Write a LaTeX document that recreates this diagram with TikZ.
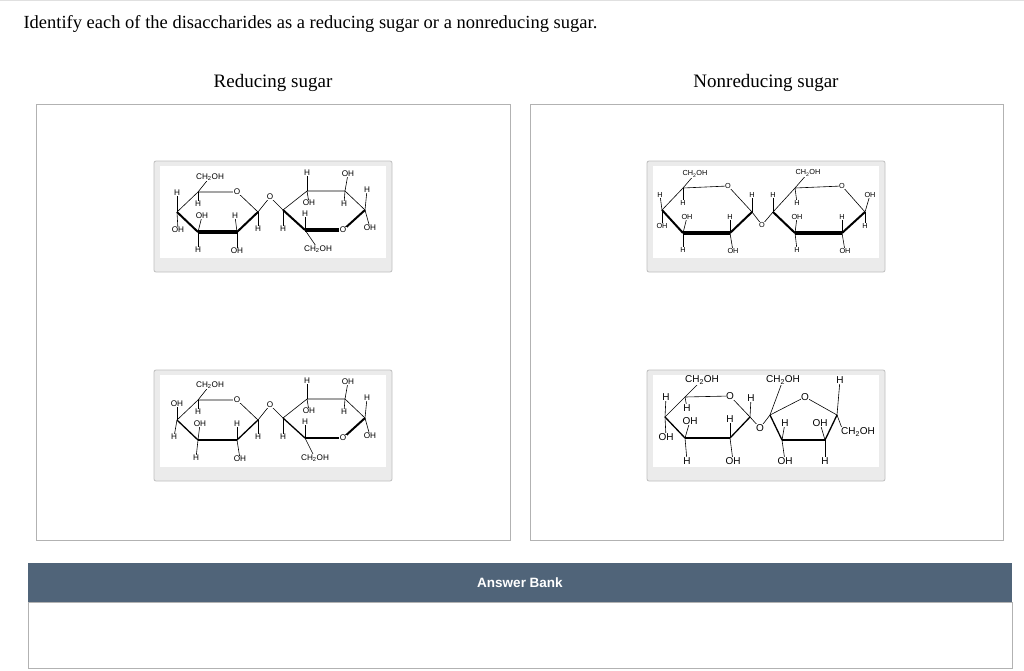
\documentclass[tikz,border=0pt]{standalone}
\usepackage{fontspec}
\setmainfont{Liberation Serif}
\newfontfamily\arialf{Liberation Sans}
\tikzset{
 lb/.style={font=\arialf\fontsize{8.2}{8.5}\selectfont, inner sep=0.4pt, fill=white},
 lbb/.style={font=\arialf\fontsize{10}{11}\selectfont, inner sep=0.5pt, fill=white},
 bd/.style={line width=0.6pt},
 wd/.style={line width=2pt},
 bw/.style={line width=3.2pt},
 panel/.style={draw=black!30, line width=1pt, fill=white},
 card/.style={draw=black!25, fill=black!8, rounded corners=2pt, line width=0.8pt},
 inner/.style={fill=white, draw=none}
}
\newcommand{\mycard}[2]{%
 \draw[card] (#1,#2) rectangle ++(238,111);
 \fill[inner] (#1+6,#2+5) rectangle ++(226,92);}
\begin{document}
\begin{tikzpicture}[x=1pt,y=-1pt]
\useasboundingbox (0,0) rectangle (1024,670);
\fill[white] (0,0) rectangle (1024,670);
\draw[black!12] (0,0.5) -- (1024,0.5);
\node[anchor=west, font=\fontsize{18.5}{20}\selectfont] (title) at (20,24) {Identify each of the disaccharides as a reducing sugar or a nonreducing sugar.};
\node[font=\fontsize{19}{20}\selectfont] (r) at (273,83) {Reducing sugar};
\node[font=\fontsize{19}{20}\selectfont] (n) at (766,83) {Nonreducing sugar};
\draw[panel] (36,104) rectangle (510,540);
\draw[panel] (530,104) rectangle (1003,540);
\fill[fill={rgb,255:red,80;green,100;blue,121}] (28,563) rectangle (1012,602);
\node[text=white, font=\arialf\bfseries\fontsize{13.5}{15}\selectfont] (ab) at (520,583) {Answer Bank};
\draw[black!30] (28,602) rectangle (1012,668);
\mycard{154}{161}
\mycard{647}{161}
\mycard{154}{370}
\mycard{647}{370}
% ---------- structure 1 ----------
\begin{scope}
\coordinate (a5) at (198,192); \coordinate (aO) at (237,192); \coordinate (a1) at (258,212);
\coordinate (a2) at (237,232); \coordinate (a3) at (198,232); \coordinate (a4) at (177,212);
\draw[bd] (a4)--(a5)--(aO)--(a1);
\draw[wd] (a4)--(a3); \draw[bw] (a3)--(a2); \draw[wd] (a2)--(a1);
\draw[bd] (a5)--(210,177) node[lb]{CH\textsubscript{2}OH};
\draw[bd] (a4)--(177,193) node[lb]{H};
\draw[bd] (a4)--(178,230) node[lb]{OH};
\draw[bd] (a5)--(198,204) node[lb]{H};
\draw[bd] (a3)--(202,216) node[lb]{OH};
\draw[bd] (a3)--(198,250) node[lb]{H};
\draw[bd] (a2)--(235,216) node[lb]{H};
\draw[bd] (a2)--(237,251) node[lb]{OH};
\draw[bd] (a1)--(258,229) node[lb]{H};
\coordinate (b4) at (283,210); \coordinate (b3) at (307,191); \coordinate (b2) at (345,191);
\coordinate (b1) at (365,210); \coordinate (bO) at (343,230); \coordinate (b5) at (305,230);
\draw[bd] (a1)--(270,197)--(b4);
\node[lb] (gO1) at (270,197) {O};
\draw[bd] (b4)--(b3)--(b2)--(b1);
\draw[wd] (b4)--(b5); \draw[bw] (b5)--(bO); \draw[wd] (bO)--(b1);
\node[lb] at (bO) {O};
\draw[bd] (b4)--(283,229) node[lb]{H};
\draw[bd] (b3)--(307,173) node[lb]{H};
\draw[bd] (b3)--(309,203) node[lb]{OH};
\draw[bd] (b2)--(348,174) node[lb]{OH};
\draw[bd] (b2)--(344,204) node[lb]{H};
\draw[bd] (b1)--(367,190) node[lb]{H};
\draw[bd] (b1)--(370,228) node[lb]{OH};
\draw[bd] (b5)--(305,214) node[lb]{H};
\draw[bd] (b5)--(318,249) node[lb]{CH\textsubscript{2}OH};
\node[lb] at (aO) {O};
\end{scope}
% ---------- structure 3 ----------
\begin{scope}[yshift=-208pt]
\coordinate (a5) at (198,192); \coordinate (aO) at (237,192); \coordinate (a1) at (258,212);
\coordinate (a2) at (237,232); \coordinate (a3) at (198,232); \coordinate (a4) at (177,212);
\draw[bd] (a4)--(a5)--(aO)--(a1);
\draw[line width=1.3pt] (a4)--(a3); \draw[line width=2pt] (a3)--(a2); \draw[line width=1.3pt] (a2)--(a1);
\draw[bd] (a5)--(210,177) node[lb]{CH\textsubscript{2}OH};
\draw[bd] (a4)--(177,196) node[lb]{OH};
\draw[bd] (a4)--(174,229) node[lb]{H};
\draw[bd] (a5)--(198,204) node[lb]{H};
\draw[bd] (a3)--(200,216) node[lb]{OH};
\draw[bd] (a3)--(196,250) node[lb]{H};
\draw[bd] (a2)--(237,216) node[lb]{H};
\draw[bd] (a2)--(240,251) node[lb]{OH};
\draw[bd] (a1)--(258,229) node[lb]{H};
\coordinate (b4) at (283,210); \coordinate (b3) at (307,191); \coordinate (b2) at (345,191);
\coordinate (b1) at (365,210); \coordinate (bO) at (343,230); \coordinate (b5) at (305,230);
\draw[bd] (a1)--(270,197)--(b4);
\node[lb] at (270,197) {O};
\draw[bd] (b4)--(b3)--(b2)--(b1);
\draw[line width=1.3pt] (b4)--(b5); \draw[line width=1.3pt] (b5)--(bO); \draw[wd] (bO)--(b1);
\node[lb] at (bO) {O};
\draw[bd] (b4)--(283,229) node[lb]{H};
\draw[bd] (b3)--(307,173) node[lb]{H};
\draw[bd] (b3)--(309,203) node[lb]{OH};
\draw[bd] (b2)--(348,174) node[lb]{OH};
\draw[bd] (b2)--(344,204) node[lb]{H};
\draw[bd] (b1)--(367,190) node[lb]{H};
\draw[bd] (b1)--(370,228) node[lb]{OH};
\draw[bd] (b5)--(305,214) node[lb]{H};
\draw[bd] (b5)--(315,250) node[lb]{CH\textsubscript{2}OH};
\node[lb] at (aO) {O};
\end{scope}
% ---------- structure 2 ----------
\begin{scope}[lb/.append style={font=\arialf\fontsize{7.3}{8}\selectfont}]
\coordinate (c5) at (683,188); \coordinate (cO) at (728,186); \coordinate (c1) at (752,212);
\coordinate (c2) at (730,233); \coordinate (c3) at (683,233); \coordinate (c4) at (662,210);
\draw[bd] (c4)--(c5)--(cO)--(c1);
\draw[wd] (c4)--(c3); \draw[bw] (c3)--(c2); \draw[wd] (c2)--(c1);
\node[lb] at (cO) {O};
\draw[bd] (c5)--(695,174) node[lb]{CH\textsubscript{2}OH};
\draw[bd] (c4)--(660,195) node[lb]{H};
\draw[bd] (c4)--(662,226) node[lb]{OH};
\draw[bd] (c5)--(683,203) node[lb]{H};
\draw[bd] (c3)--(687,217) node[lb]{OH};
\draw[bd] (c3)--(683,250) node[lb]{H};
\draw[bd] (c2)--(730,217) node[lb]{H};
\draw[bd] (c2)--(733,251) node[lb]{OH};
\draw[bd] (c1)--(752,195) node[lb]{H};
\coordinate (d4) at (773,212); \coordinate (d5) at (795,188); \coordinate (dO) at (842,186);
\coordinate (d1) at (865,212); \coordinate (d2) at (842,233); \coordinate (d3) at (795,233);
\draw[bd] (c1)--(762,225)--(d4);
\node[lb] at (762,225) {O};
\draw[bd] (d4)--(d5)--(dO)--(d1);
\draw[wd] (d4)--(d3); \draw[bw] (d3)--(d2); \draw[wd] (d2)--(d1);
\node[lb] at (dO) {O};
\draw[bd] (d4)--(773,195) node[lb]{H};
\draw[bd] (d5)--(808,173) node[lb]{CH\textsubscript{2}OH};
\draw[bd] (d5)--(797,203) node[lb]{H};
\draw[bd] (d3)--(797,217) node[lb]{OH};
\draw[bd] (d3)--(797,250) node[lb]{H};
\draw[bd] (d2)--(842,217) node[lb]{H};
\draw[bd] (d2)--(845,251) node[lb]{OH};
\draw[bd] (d1)--(870,195) node[lb]{OH};
\draw[bd] (d1)--(865,226) node[lb]{H};
\end{scope}
% ---------- structure 4 ----------
\begin{scope}
\coordinate (e5) at (685,397); \coordinate (eO) at (730,396); \coordinate (e1) at (750,417);
\coordinate (e2) at (730,438); \coordinate (e3) at (685,438); \coordinate (e4) at (665,417);
\draw[bd] (e4)--(e5)--(eO)--(e1);
\draw[line width=1.3pt] (e4)--(e3); \draw[line width=1.8pt] (e3)--(e2); \draw[line width=1.3pt] (e2)--(e1);
\node[lbb] at (eO) {O};
\draw[bd] (e5)--(702,380) node[lbb]{CH\textsubscript{2}OH};
\draw[bd] (e4)--(666,397) node[lbb]{H};
\draw[bd] (e4)--(666,437) node[lbb]{OH};
\draw[bd] (e5)--(687,408) node[lbb]{H};
\draw[bd] (e3)--(690,421) node[lbb]{OH};
\draw[bd] (e3)--(687,461) node[lbb]{H};
\draw[bd] (e2)--(730,419) node[lbb]{H};
\draw[bd] (e2)--(733,461) node[lbb]{OH};
\draw[bd] (e1)--(751,398) node[lbb]{H};
\coordinate (f2) at (770,415); \coordinate (fO) at (805,397); \coordinate (f5) at (837,415);
\coordinate (f4) at (825,440); \coordinate (f3) at (782,440);
\draw[bd] (e1)--(760,428)--(f2);
\node[lbb] at (760,428) {O};
\draw[bd] (f2)--(fO)--(f5);
\draw[line width=1.3pt] (f2)--(f3); \draw[line width=1.8pt] (f3)--(f4); \draw[line width=1.3pt] (f4)--(f5);
\node[lbb] at (fO) {O};
\draw[bd] (f2)--(783,380) node[lbb]{CH\textsubscript{2}OH};
\draw[bd] (f5)--(840,380) node[lbb]{H};
\draw[bd] (f3)--(785,423) node[lbb]{H};
\draw[bd] (f3)--(785,461) node[lbb]{OH};
\draw[bd] (f4)--(820,423) node[lbb]{OH};
\draw[bd] (f4)--(825,461) node[lbb]{H};
\draw[bd] (f5)--(843,431);
\node[lbb] at (858,432) {CH\textsubscript{2}OH};
\end{scope}
\end{tikzpicture}
\end{document}
